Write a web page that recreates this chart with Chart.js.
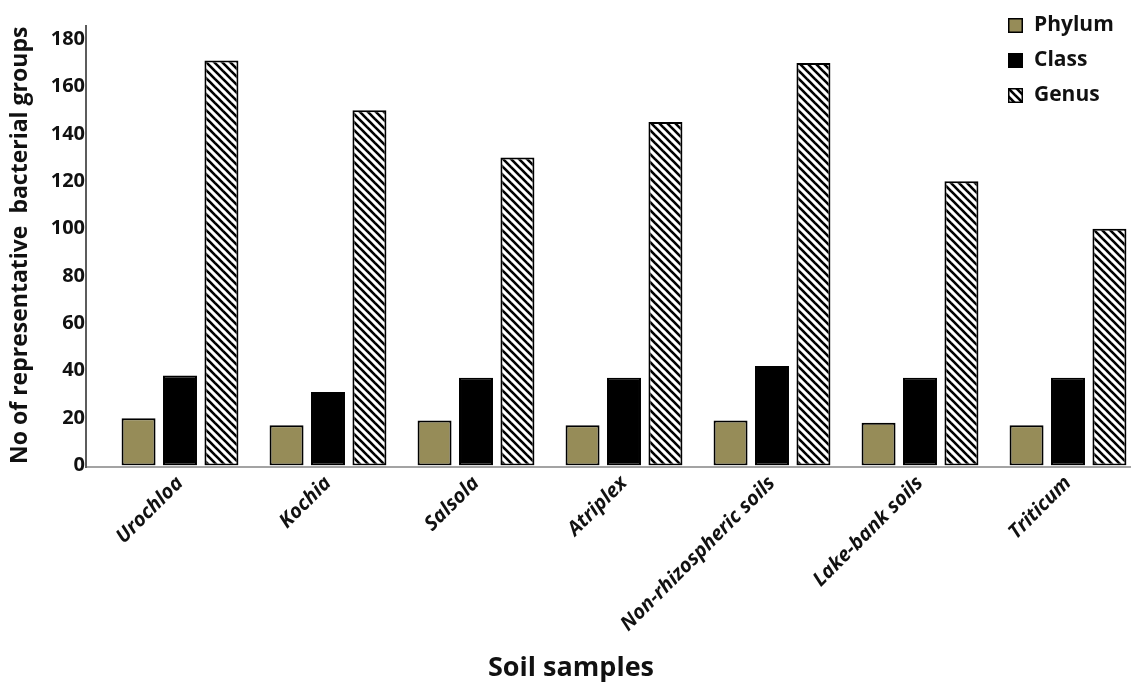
<!DOCTYPE html>
<html><head><meta charset="utf-8">
<script src="https://cdn.jsdelivr.net/npm/chart.js@4/dist/chart.umd.min.js"></script>
<style>html,body{margin:0;padding:0;overflow:hidden;background:#fff}</style>
</head><body>
<canvas id="c" width="1142" height="685" style="display:block;width:1142px;height:685px"></canvas>
<script>
// ---- data ----
const categories = ['Urochloa', 'Kochia', 'Salsola', 'Atriplex', 'Non-rhizospheric soils', 'Lake-bank soils', 'Triticum'];
const seriesNames = ['Phylum', 'Class', 'Genus'];
const phylumValues = [20, 17, 19, 17, 19, 18, 17];
const classValues = [38, 31, 37, 37, 42, 37, 37];
const genusValues = [171, 150, 130, 145, 170, 120, 100];
const yTickValues = [0, 20, 40, 60, 80, 100, 120, 140, 160, 180];
const yAxisTitle = 'No of representative  bacterial groups';
const xAxisTitle = 'Soil samples';

// ---- styling ----
const FONT = '"Open Sans", Lato, sans-serif';
const OLIVE = '#968c58';

function hatch() {
  const t = document.createElement('canvas');
  t.width = 8; t.height = 8;
  const g = t.getContext('2d');
  g.fillStyle = '#fff'; g.fillRect(0, 0, 8, 8);
  g.strokeStyle = '#000'; g.lineWidth = 2.6;
  for (const c of [-8, 0, 8]) {
    g.beginPath(); g.moveTo(-1, c - 1); g.lineTo(9, c + 9); g.stroke();
  }
  return g.createPattern(t, 'repeat');
}

const axisLines = {
  id: 'axisLines',
  beforeDatasetsDraw(chart) {
    const {ctx, chartArea: a} = chart;
    const x0 = a.left - 20;
    ctx.save();
    ctx.lineWidth = 2;
    ctx.strokeStyle = '#a3a3a3';
    ctx.beginPath(); ctx.moveTo(x0, a.bottom + 1.5); ctx.lineTo(chart.width, a.bottom + 1.5); ctx.stroke();
    ctx.strokeStyle = '#5c5c5c';
    ctx.beginPath(); ctx.moveTo(x0, a.top); ctx.lineTo(x0, a.bottom + 2.5); ctx.stroke();
    ctx.restore();
  }
};

const legendBox = {
  id: 'legendBox',
  afterDraw(chart) {
    const {ctx} = chart;
    const x = 1008, y0 = 18, dy = 35, s = 15;
    ctx.save();
    ctx.font = 'bold 21px ' + FONT;
    ctx.textBaseline = 'middle';
    ctx.textAlign = 'left';
    chart.data.datasets.forEach((ds, i) => {
      const y = y0 + i * dy;
      ctx.fillStyle = ds.backgroundColor;
      ctx.fillRect(x, y, s, s);
      ctx.lineWidth = 1.5; ctx.strokeStyle = '#000';
      ctx.strokeRect(x + 0.75, y + 0.75, s - 1.5, s - 1.5);
      ctx.fillStyle = '#111';
      ctx.fillText(ds.label, x + 26, y + s / 2);
    });
    ctx.restore();
  }
};

function make() {
  const barCommon = {borderColor: '#000', borderWidth: 2, borderSkipped: false,
    barPercentage: 0.82, categoryPercentage: 0.84};
  new Chart(document.getElementById('c'), {
    type: 'bar',
    data: {
      labels: categories,
      datasets: [
        Object.assign({label: seriesNames[0], data: phylumValues, backgroundColor: OLIVE}, barCommon),
        Object.assign({label: seriesNames[1], data: classValues, backgroundColor: '#000'}, barCommon),
        Object.assign({label: seriesNames[2], data: genusValues, backgroundColor: hatch()}, barCommon)
      ]
    },
    options: {
      responsive: false, animation: false, devicePixelRatio: 1,
      layout: {autoPadding: false, padding: {top: 25, left: 0, right: 0, bottom: 0}},
      plugins: {
        legend: {display: false},
        tooltip: {enabled: false},
        title: {display: true, position: 'bottom', text: xAxisTitle, color: '#111',
          font: {family: FONT, size: 27, weight: 'bold', lineHeight: 1.2}, padding: {top: 0, bottom: 0}}
      },
      scales: {
        x: {
          offset: true,
          grid: {display: false, drawTicks: false},
          border: {display: false},
          ticks: {color: '#111', font: {family: FONT, size: 20, weight: 'bold', style: 'italic'},
            minRotation: 45, maxRotation: 45, padding: 6, autoSkip: false},
          afterFit(s) { s.height = 685 - 27 * 1.2 - 465.5; }
        },
        y: {
          min: 0, max: 186, bounds: 'data',
          grid: {display: false, drawTicks: false},
          border: {display: false},
          afterBuildTicks(s) { s.ticks = yTickValues.map(v => ({value: v})); },
          ticks: {color: '#111', font: {family: FONT, size: 20, weight: 'bold', lineHeight: 0.3}, padding: 21},
          title: {display: true, text: yAxisTitle, color: '#111',
            font: {family: FONT, size: 23, weight: 'bold', lineHeight: 1.2}, padding: {top: 7, bottom: 0}},
          afterFit(s) { s.width = 106; }
        }
      }
    },
    plugins: [axisLines, legendBox]
  });
}

if (document.fonts && document.fonts.load) {
  Promise.all([
    document.fonts.load('bold 20px "Open Sans"'),
    document.fonts.load('italic bold 20px "Open Sans"')
  ]).then(make, make);
} else { make(); }
</script>
</body></html>
